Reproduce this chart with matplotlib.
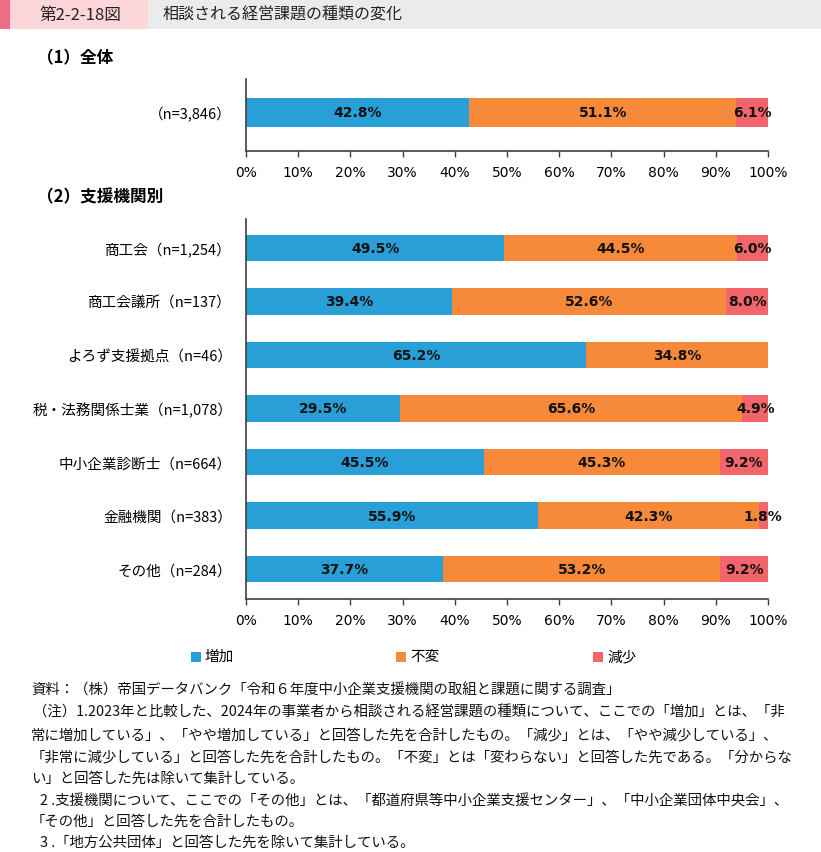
import numpy as np
import matplotlib
matplotlib.use("Agg")
import matplotlib.pyplot as plt
from matplotlib.patches import Rectangle

plt.rcParams["font.family"] = ["Noto Sans CJK JP", "DejaVu Sans"]

# ---- data ----
SERIES = ["増加", "不変", "減少"]
COLORS = ["#299FD7", "#F7893B", "#F2666B"]

total_label = ["（n=3,846）"]
total_vals = {"増加": [42.8], "不変": [51.1], "減少": [6.1]}

org_labels = [
    "商工会（n=1,254）",
    "商工会議所（n=137）",
    "よろず支援拠点（n=46）",
    "税・法務関係士業（n=1,078）",
    "中小企業診断士（n=664）",
    "金融機関（n=383）",
    "その他（n=284）",
]
inc = [49.5, 39.4, 65.2, 29.5, 45.5, 55.9, 37.7]
same = [44.5, 52.6, 34.8, 65.6, 45.3, 42.3, 53.2]
dec = [6.0, 8.0, 0.0, 4.9, 9.2, 1.8, 9.2]
org_vals = {"増加": inc, "不変": same, "減少": dec}

xticks = np.arange(0, 101, 10)

notes = [
    (31, 691, "資料：（株）帝国データバンク「令和６年度中小企業支援機関の取組と課題に関する調査」"),
    (33, 713, "（注）1.2023年と比較した、2024年の事業者から相談される経営課題の種類について、ここでの「増加」とは、「非"),
    (31, 735, "常に増加している」、「やや増加している」と回答した先を合計したもの。「減少」とは、「やや減少している」、"),
    (31, 757, "「非常に減少している」と回答した先を合計したもの。「不変」とは「変わらない」と回答した先である。「分からな"),
    (31, 779, "い」と回答した先は除いて集計している。"),
    (40, 801, "2 .支援機関について、ここでの「その他」とは、「都道府県等中小企業支援センター」、「中小企業団体中央会」、"),
    (31, 822, "「その他」と回答した先を合計したもの。"),
    (40, 843, "3 .「地方公共団体」と回答した先を除いて集計している。"),
]

W, H = 821, 853
fig = plt.figure(figsize=(W / 100, H / 100), dpi=100)
fig.patch.set_facecolor("white")


def px_axes(x0, y0, x1, y1):
    return fig.add_axes([x0 / W, 1 - y1 / H, (x1 - x0) / W, (y1 - y0) / H])


def draw_bars(ax, labels, vals, bar_h):
    y = np.arange(len(labels))
    left = np.zeros(len(labels))
    for name, col in zip(SERIES, COLORS):
        v = np.array(vals[name])
        ax.barh(y, v, left=left, height=bar_h, color=col, edgecolor="none")
        for yi, (l, w) in enumerate(zip(left, v)):
            if w > 0:
                ax.text(l + w / 2, yi, f"{w:.1f}%", ha="center", va="center",
                        fontsize=10, fontweight="bold", family="DejaVu Sans",
                        color="#111111")
        left = left + v
    ax.set_xlim(0, 100)
    ax.set_xticks(xticks)
    ax.set_xticklabels([f"{t}%" for t in xticks], family="DejaVu Sans", fontsize=10)
    ax.set_yticks(y)
    ax.set_yticklabels(labels, fontsize=10.5)
    ax.tick_params(axis="y", length=0, pad=10)
    ax.tick_params(axis="x", length=4, width=1.0, color="#404040", pad=6)
    for s in ("top", "right"):
        ax.spines[s].set_visible(False)
    for s in ("left", "bottom"):
        ax.spines[s].set_color("#404040")
        ax.spines[s].set_linewidth(1.2)


# header band
hdr = fig.add_axes([0, 1 - 30 / H, 1, 30 / H])
hdr.set_xlim(0, W)
hdr.set_ylim(30, 0)
hdr.axis("off")
hdr.add_patch(Rectangle((0, 0), 148, 30, color="#FDD6DA", lw=0))
hdr.add_patch(Rectangle((0, 0), 10, 30, color="#EE6C86", lw=0))
hdr.add_patch(Rectangle((148, 0), W - 148, 30, color="#EBEBEB", lw=0))
hdr.text(80, 15, "第2-2-18図", ha="center", va="center", fontsize=12, color="#222222")
hdr.text(163, 15, "相談される経営課題の種類の変化", ha="left", va="center",
         fontsize=11.5, color="#222222")

fig.text(37 / W, 1 - 58 / H, "（1）全体", fontsize=12, fontweight="bold",
         va="center", ha="left")
fig.text(37 / W, 1 - 197 / H, "（2）支援機関別", fontsize=12, fontweight="bold",
         va="center", ha="left")

# panel 1
ax1 = px_axes(246, 80, 768, 152)
draw_bars(ax1, total_label, total_vals, 0.403)
ax1.set_ylim(-0.535, 0.465)

# panel 2
ax2 = px_axes(246, 220, 768, 600)
draw_bars(ax2, org_labels, org_vals, 0.5)
ax2.set_ylim(6.56, -0.54)

# legend
leg = [(191, "増加"), (396, "不変"), (593, "減少")]
for (x, name), col in zip(leg, COLORS):
    fig.patches.append(Rectangle((x / W, 1 - 663 / H), 10 / W, 10 / H,
                                 transform=fig.transFigure, color=col, lw=0))
    fig.text((x + 14) / W, 1 - 657 / H, name, fontsize=10.5, va="center", ha="left")

for x, y, s in notes:
    fig.text(x / W, 1 - y / H, s, fontsize=10.4, va="center", ha="left",
             color="#111111")

fig.savefig("out.png", dpi=100)
